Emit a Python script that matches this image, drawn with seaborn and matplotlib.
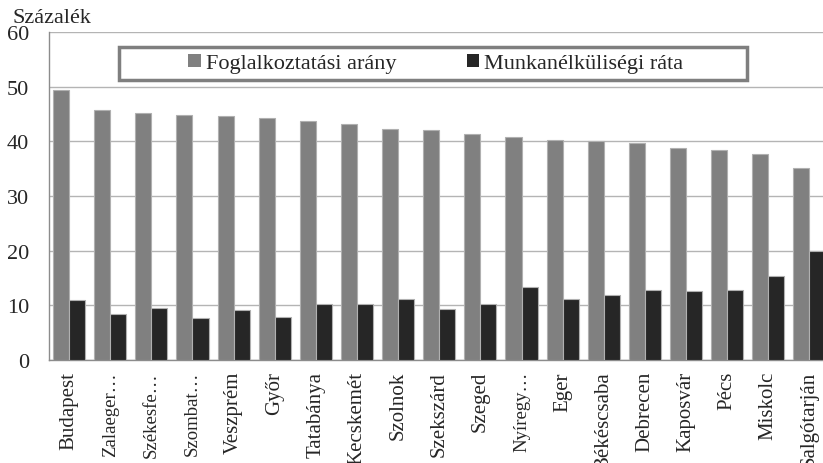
import matplotlib
matplotlib.use("Agg")
import matplotlib.pyplot as plt
import matplotlib.patches as mpatches
import seaborn as sns
import pandas as pd
import numpy as np

cities = ["Budapest", "Zalaeger…", "Székesfe…", "Szombat…", "Veszprém", "Győr",
          "Tatabánya", "Kecskemét", "Szolnok", "Szekszárd", "Szeged", "Nyíregy…",
          "Eger", "Békéscsaba", "Debrecen", "Kaposvár", "Pécs", "Miskolc", "Salgótarján"]
foglalkoztatasi = [49.4, 45.7, 45.1, 44.8, 44.6, 44.2, 43.7, 43.1, 42.2, 42.1,
                   41.4, 40.8, 40.3, 40.1, 39.7, 38.8, 38.5, 37.6, 35.2]
munkanelkuli = [10.9, 8.4, 9.5, 7.6, 9.2, 7.9, 10.3, 10.3, 11.1, 9.4,
                10.3, 13.3, 11.2, 11.9, 12.8, 12.7, 12.8, 15.4, 19.9]
series_names = ["Foglalkoztatási arány", "Munkanélküliségi ráta"]
yticks = [0, 10, 20, 30, 40, 50, 60]

df = pd.DataFrame({
    "city": cities * 2,
    "value": foglalkoztatasi + munkanelkuli,
    "series": [series_names[0]] * len(cities) + [series_names[1]] * len(cities),
})

sns.set_style("white")
plt.rcParams["font.family"] = "serif"
plt.rcParams["font.serif"] = ["Liberation Serif", "DejaVu Serif"]

fig = plt.figure(figsize=(8.23, 4.64), dpi=100)
W, H = 823, 464
ax = fig.add_axes([48.5 / W, (H - 361) / H, (830 - 48.5) / W, (361 - 33) / H])

palette = {series_names[0]: "#808080", series_names[1]: "#262626"}
sns.barplot(data=df, x="city", y="value", hue="series", palette=palette,
            width=0.78, gap=0.0, ax=ax, edgecolor="#b0b0b0", linewidth=0.8,
            saturation=1, legend=True, zorder=3)

ax.set_xlim(-0.5, len(cities) - 0.5)
ax.set_ylim(0, 60)
ax.set_yticks(yticks)
ax.set_yticklabels([str(t) for t in yticks], fontsize=16)
ax.yaxis.grid(True, color="#b4b4b4", linewidth=1.0, zorder=0)
ax.set_axisbelow(True)
ax.set_xlabel("")
ax.set_ylabel("")

ax.tick_params(axis="y", length=0, pad=14)
ax.tick_params(axis="x", length=0, pad=8, labelsize=15, rotation=90)
for lbl in ax.get_xticklabels():
    if "…" in lbl.get_text():
        lbl.set_fontsize(13.5)
ax.set_xticks(np.arange(-0.5, len(cities) - 0.5, 1.0), minor=True)
ax.tick_params(axis="x", which="minor", direction="in", length=5, color="#a0a0a0", width=1)

for s in ["top", "right"]:
    ax.spines[s].set_visible(False)
for s in ["left", "bottom"]:
    ax.spines[s].set_color("#8c8c8c")
    ax.spines[s].set_linewidth(1.0)

handles, labels = ax.get_legend_handles_labels()
ax.get_legend().remove()
leg = fig.legend(handles, labels, loc="center",
                 bbox_to_anchor=(436 / W, 1 - 64.5 / H),
                 ncol=2, frameon=False, fontsize=16,
                 handlelength=0.55, handleheight=0.55, handletextpad=0.25,
                 columnspacing=3.15)
for h in leg.legend_handles:
    h.set_edgecolor("none")

rect = mpatches.Rectangle((119 / W, 1 - 81 / H), (747 - 119) / W, (81 - 48) / H,
                          transform=fig.transFigure, fill=False,
                          edgecolor="#7f7f7f", linewidth=2.5, zorder=10)
fig.patches.append(rect)

fig.text(12 / W, 1 - 23 / H, "Százalék", fontsize=16, ha="left", va="baseline")

fig.savefig("out.png", dpi=100)
